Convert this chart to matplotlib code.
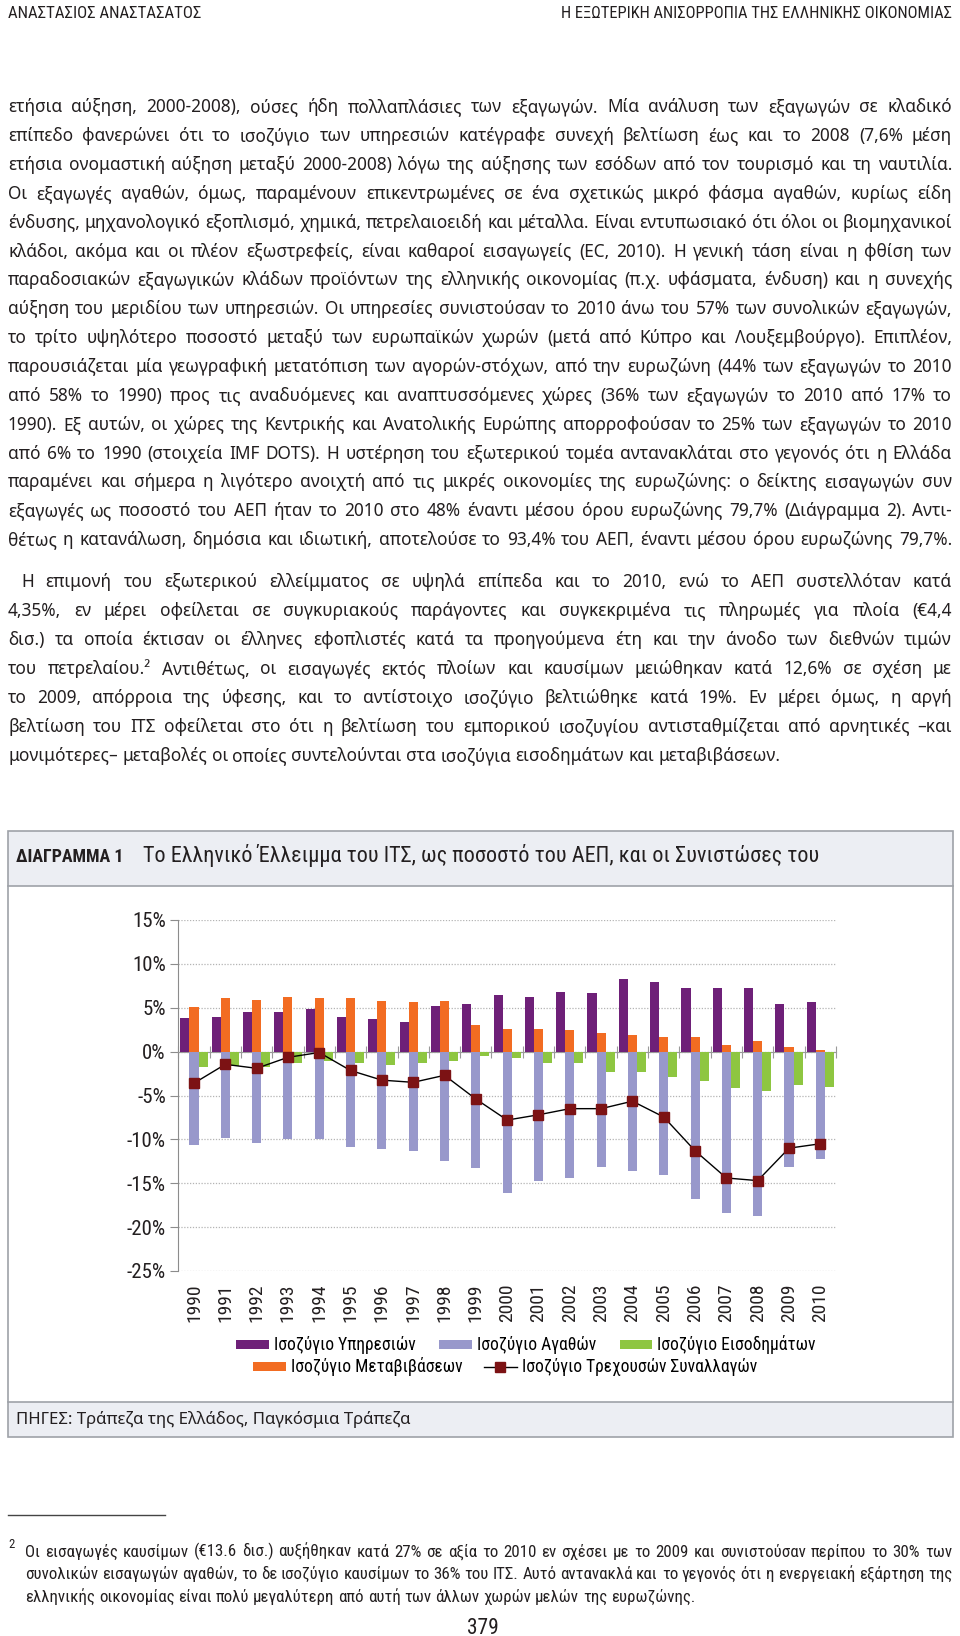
import numpy as np
import matplotlib
matplotlib.use('Agg')
import matplotlib.pyplot as plt
from matplotlib import font_manager as fm
from matplotlib.patches import Rectangle, Patch
from matplotlib.lines import Line2D
from matplotlib.transforms import blended_transform_factory

# ---------------- data ----------------
years = list(range(1990, 2011))
services = [3.8, 3.95, 4.5, 4.5, 4.9, 3.95, 3.7, 3.4, 5.2, 5.45, 6.4,
            6.25, 6.85, 6.7, 8.3, 7.9, 7.3, 7.3, 7.2, 5.45, 5.7]
transfers = [5.05, 6.15, 5.9, 6.25, 6.15, 6.15, 5.75, 5.6, 5.75, 3.0, 2.6,
             2.6, 2.5, 2.15, 1.9, 1.65, 1.65, 0.7, 1.2, 0.55, 0.15]
goods = [-10.6, -9.9, -10.4, -10.0, -10.0, -10.9, -11.05, -11.3, -12.5, -13.3, -16.1,
         -14.7, -14.45, -13.1, -13.65, -14.05, -16.8, -18.4, -18.7, -13.2, -12.25]
income = [-1.8, -1.6, -1.7, -1.33, -1.06, -1.25, -1.5, -1.25, -1.1, -0.55, -0.7,
          -1.35, -1.35, -2.3, -2.3, -2.85, -3.4, -4.1, -4.5, -3.8, -4.0]
current = [-3.6, -1.45, -1.9, -0.65, -0.1, -2.15, -3.25, -3.5, -2.7, -5.4, -7.8,
           -7.2, -6.5, -6.5, -5.65, -7.45, -11.3, -14.4, -14.7, -11.0, -10.5]
yticks = [15, 10, 5, 0, -5, -10, -15, -20, -25]
ytick_labels = ['15%', '10%', '5%', '0%', '-5%', '-10%', '-15%', '-20%', '-25%']
legend_labels = ['Ισοζύγιο Υπηρεσιών', 'Ισοζύγιο Αγαθών', 'Ισοζύγιο Εισοδημάτων',
                 'Ισοζύγιο Μεταβιβάσεων', 'Ισοζύγιο Τρεχουσών Συναλλαγών']

header_left = 'ΑΝΑΣΤΑΣΙΟΣ ΑΝΑΣΤΑΣΑΤΟΣ'
header_right = 'Η ΕΞΩΤΕΡΙΚΗ ΑΝΙΣΟΡΡΟΠΙΑ ΤΗΣ ΕΛΛΗΝΙΚΗΣ ΟΙΚΟΝΟΜΙΑΣ'
chart_label = 'ΔΙΑΓΡΑΜΜΑ 1'
chart_title = 'Το Ελληνικό Έλλειμμα του ΙΤΣ, ως ποσοστό του ΑΕΠ, και οι Συνιστώσες του'
source_text = 'ΠΗΓΕΣ: Τράπεζα της Ελλάδος, Παγκόσμια Τράπεζα'
page_number = '379'

para1 = [
    'ετήσια αύξηση, 2000-2008), ούσες ήδη πολλαπλάσιες των εξαγωγών. Μία ανάλυση των εξαγωγών σε κλαδικό',
    'επίπεδο φανερώνει ότι το ισοζύγιο των υπηρεσιών κατέγραφε συνεχή βελτίωση έως και το 2008 (7,6% μέση',
    'ετήσια ονομαστική αύξηση μεταξύ 2000-2008) λόγω της αύξησης των εσόδων από τον τουρισμό και τη ναυτιλία.',
    'Οι εξαγωγές αγαθών, όμως, παραμένουν επικεντρωμένες σε ένα σχετικώς μικρό φάσμα αγαθών, κυρίως είδη',
    'ένδυσης, μηχανολογικό εξοπλισμό, χημικά, πετρελαιοειδή και μέταλλα. Είναι εντυπωσιακό ότι όλοι οι βιομηχανικοί',
    'κλάδοι, ακόμα και οι πλέον εξωστρεφείς, είναι καθαροί εισαγωγείς (EC, 2010). Η γενική τάση είναι η φθίση των',
    'παραδοσιακών εξαγωγικών κλάδων προϊόντων της ελληνικής οικονομίας (π.χ. υφάσματα, ένδυση) και η συνεχής',
    'αύξηση του μεριδίου των υπηρεσιών. Οι υπηρεσίες συνιστούσαν το 2010 άνω του 57% των συνολικών εξαγωγών,',
    'το τρίτο υψηλότερο ποσοστό μεταξύ των ευρωπαϊκών χωρών (μετά από Κύπρο και Λουξεμβούργο). Επιπλέον,',
    'παρουσιάζεται μία γεωγραφική μετατόπιση των αγορών-στόχων, από την ευρωζώνη (44% των εξαγωγών το 2010',
    'από 58% το 1990) προς τις αναδυόμενες και αναπτυσσόμενες χώρες (36% των εξαγωγών το 2010 από 17% το',
    '1990). Εξ αυτών, οι χώρες της Κεντρικής και Ανατολικής Ευρώπης απορροφούσαν το 25% των εξαγωγών το 2010',
    'από 6% το 1990 (στοιχεία IMF DOTS). Η υστέρηση του εξωτερικού τομέα αντανακλάται στο γεγονός ότι η Ελλάδα',
    'παραμένει και σήμερα η λιγότερο ανοιχτή από τις μικρές οικονομίες της ευρωζώνης: ο δείκτης εισαγωγών συν',
    'εξαγωγές ως ποσοστό του ΑΕΠ ήταν το 2010 στο 48% έναντι μέσου όρου ευρωζώνης 79,7% (Διάγραμμα 2). Αντι-',
    'θέτως η κατανάλωση, δημόσια και ιδιωτική, αποτελούσε το 93,4% του ΑΕΠ, έναντι μέσου όρου ευρωζώνης 79,7%.',
]
para2 = [
    'Η επιμονή του εξωτερικού ελλείμματος σε υψηλά επίπεδα και το 2010, ενώ το ΑΕΠ συστελλόταν κατά',
    '4,35%, εν μέρει οφείλεται σε συγκυριακούς παράγοντες και συγκεκριμένα τις πληρωμές για πλοία (€4,4',
    'δισ.) τα οποία έκτισαν οι έλληνες εφοπλιστές κατά τα προηγούμενα έτη και την άνοδο των διεθνών τιμών',
    'του πετρελαίου.² Αντιθέτως, οι εισαγωγές εκτός πλοίων και καυσίμων μειώθηκαν κατά 12,6% σε σχέση με',
    'το 2009, απόρροια της ύφεσης, και το αντίστοιχο ισοζύγιο βελτιώθηκε κατά 19%. Εν μέρει όμως, η αργή',
    'βελτίωση του ΙΤΣ οφείλεται στο ότι η βελτίωση του εμπορικού ισοζυγίου αντισταθμίζεται από αρνητικές –και',
    'μονιμότερες– μεταβολές οι οποίες συντελούνται στα ισοζύγια εισοδημάτων και μεταβιβάσεων.',
]
footnote = [
    'Οι εισαγωγές καυσίμων (€13.6 δισ.) αυξήθηκαν κατά 27% σε αξία το 2010 εν σχέσει με το 2009 και συνιστούσαν περίπου το 30% των',
    'συνολικών εισαγωγών αγαθών, το δε ισοζύγιο καυσίμων το 36% του ΙΤΣ. Αυτό αντανακλά και το γεγονός ότι η ενεργειακή εξάρτηση της',
    'ελληνικής οικονομίας είναι πολύ μεγαλύτερη από αυτή των άλλων χωρών μελών της ευρωζώνης.',
]

# ---------------- style ----------------
C_SERV = '#6e2078'
C_TRANS = '#f26c22'
C_GOODS = '#9898cb'
C_INC = '#8ec641'
C_CA = '#7c1214'
TXT = '#231f20'
BAND = '#eceef3'
BORDER = '#9ea2a8'

W, H = 960, 1636
fig = plt.figure(figsize=(W / 100, H / 100), dpi=100)
fig.patch.set_facecolor('white')
renderer = fig.canvas.get_renderer()


def has_font(name):
    try:
        fm.findfont(fm.FontProperties(family=name), fallback_to_default=False)
        return True
    except Exception:
        return False


NARROW = next((f for f in ['Liberation Sans Narrow', 'Roboto Condensed', 'Liberation Sans']
               if has_font(f)), 'DejaVu Sans')
BODY = next((f for f in ['Noto Sans', 'Open Sans', 'DejaVu Sans'] if has_font(f)), 'DejaVu Sans')
NARROW_F = [NARROW, 'DejaVu Sans']
BODY_F = [BODY, 'DejaVu Sans']


def fx(x):
    return x / W


def fy(y):
    return 1 - y / H


def measure(s, size, family, weight='normal'):
    t = fig.text(0, 0, s, fontsize=size, family=family, weight=weight)
    w = t.get_window_extent(renderer).width
    t.remove()
    return w


def fit(s, width, family, weight='normal', base=10.0):
    return base * width / measure(s, base, family, weight)


def draw_line(s, x0, x1, yb, size, family, justify=True, color=TXT):
    words = s.split(' ')
    widths = [measure(w, size, family) for w in words]
    if justify and len(words) > 1:
        gap = (x1 - x0 - sum(widths)) / (len(words) - 1)
    else:
        gap = measure('a a', size, family) - measure('aa', size, family)
    x = x0
    for w, ww in zip(words, widths):
        fig.text(fx(x), fy(yb), w, fontsize=size, family=family, color=color,
                 ha='left', va='baseline')
        x += ww + gap


def rect(x0, y0, x1, y1, **kw):
    fig.add_artist(Rectangle((fx(x0), fy(y1)), (x1 - x0) / W, (y1 - y0) / H,
                             transform=fig.transFigure, **kw))


def hline(x0, x1, y, **kw):
    fig.add_artist(Line2D([fx(x0), fx(x1)], [fy(y), fy(y)], transform=fig.transFigure, **kw))


def vline(x, y0, y1, **kw):
    fig.add_artist(Line2D([fx(x), fx(x)], [fy(y0), fy(y1)], transform=fig.transFigure, **kw))


# ---------------- header ----------------
hs = fit(header_left, 193, NARROW_F)
fig.text(fx(8), fy(17.5), header_left, fontsize=hs, family=NARROW_F, color=TXT, va='baseline')
hs2 = fit(header_right, 392, NARROW_F)
fig.text(fx(952), fy(17.5), header_right, fontsize=hs2, family=NARROW_F, color=TXT,
         va='baseline', ha='right')

# ---------------- body text ----------------
LEFT, RIGHT = 8, 952
avail = RIGHT - LEFT
body_size = 10 * min(avail / measure(l, 10, BODY_F) for l in para1) * 0.995
body_size = min(body_size, 10 * min((RIGHT - 21) / measure(para2[0], 10, BODY_F),
                                    *(avail / measure(l, 10, BODY_F) for l in para2[1:6])) * 0.995)
bl_off = 0.27 * body_size * 100 / 72
for i, line in enumerate(para1):
    yc = 107.5 + i * 28.87
    draw_line(line, LEFT, RIGHT, yc + bl_off, body_size, BODY_F, justify=True)
for i, line in enumerate(para2):
    yc = 582 + i * 29.1
    x0 = 21 if i == 0 else LEFT
    draw_line(line, x0, RIGHT, yc + bl_off, body_size, BODY_F, justify=(i < len(para2) - 1))

# ---------------- chart frame ----------------
rect(8, 831, 953, 886, facecolor=BAND, edgecolor=BORDER, lw=1.2)
vline(8, 886, 1402, color=BORDER, lw=1.2)
vline(953, 886, 1402, color=BORDER, lw=1.2)
rect(8, 1402, 953, 1437, facecolor=BAND, edgecolor=BORDER, lw=1.2)

ls = fit(chart_label, 107, NARROW_F, weight='bold')
fig.text(fx(16), fy(862), chart_label, fontsize=ls, family=NARROW_F, weight='bold',
         color=TXT, va='baseline')
ts = fit(chart_title, 673, NARROW_F)
fig.text(fx(143), fy(862), chart_title, fontsize=ts, family=NARROW_F, color=TXT, va='baseline')

ss = fit(source_text, 396, BODY_F)
fig.text(fx(16), fy(1424), source_text, fontsize=ss, family=BODY_F, color=TXT, va='baseline')

# ---------------- chart ----------------
ax_l, ax_r, ax_t, ax_b = 178.3, 836.0, 920.0, 1271.0
ax = fig.add_axes([fx(ax_l), fy(ax_b), (ax_r - ax_l) / W, (ax_b - ax_t) / H])
ax.set_facecolor('none')
x = np.arange(len(years))
bw = 0.29
ax.bar(x - bw, services, bw, color=C_SERV, zorder=3)
ax.bar(x, transfers, bw, color=C_TRANS, zorder=3)
ax.bar(x, goods, bw, color=C_GOODS, zorder=3)
ax.bar(x + bw, income, bw, color=C_INC, zorder=3)
ax.plot(x, current, color='black', lw=1.0, marker='s', ms=6.5, mfc=C_CA, mec=C_CA, zorder=5)

ax.set_xlim(-0.5, len(years) - 0.5)
ax.set_ylim(-25, 15)
for s in ['top', 'right']:
    ax.spines[s].set_visible(False)
ax.spines['left'].set_color('#8c8c8c')
ax.spines['bottom'].set_color('#9a9a9a')
ax.spines['bottom'].set_position(('data', 0))
ax.set_xticks(np.arange(-0.5, len(years), 1.0))
ax.tick_params(axis='x', direction='inout', length=8, color='#9a9a9a', labelbottom=False)

tick_size = fit('-25%', 39, NARROW_F)
ax.set_yticks(yticks)
ax.set_yticklabels(ytick_labels, family=NARROW_F, fontsize=tick_size, color=TXT)
ax.tick_params(axis='y', length=6, color='#8c8c8c', pad=3)
ax.yaxis.grid(True, color='#b4b4b4', linestyle=(0, (1, 1.3)), linewidth=0.9)
ax.set_axisbelow(True)

trans = blended_transform_factory(ax.transData, ax.transAxes)
for i, yr in enumerate(years):
    ax.text(i, -(1283 - ax_b) / (ax_b - ax_t), str(yr), transform=trans, rotation=90,
            ha='center', va='top', fontsize=tick_size * 0.93, family=NARROW_F, color=TXT)

# ---------------- legend ----------------
leg_size = fit(legend_labels[0], 142, NARROW_F)
h_serv = Patch(facecolor=C_SERV)
h_goods = Patch(facecolor=C_GOODS)
h_inc = Patch(facecolor=C_INC)
h_trans = Patch(facecolor=C_TRANS)
h_ca = Line2D([], [], color='black', lw=1.0, marker='s', ms=7, mfc=C_CA, mec=C_CA)
leg_kw = dict(frameon=False, prop={'family': NARROW_F, 'size': leg_size},
              handlelength=1.85, handleheight=0.45, handletextpad=0.28,
              borderpad=0, borderaxespad=0, bbox_transform=fig.transFigure)
fig.legend([h_serv, h_goods, h_inc], legend_labels[:3], loc='center', ncol=3,
           bbox_to_anchor=(fx(526), fy(1345)), columnspacing=1.35, **leg_kw)
fig.legend([h_trans, h_ca], legend_labels[3:], loc='center', ncol=2,
           bbox_to_anchor=(fx(505), fy(1367)), columnspacing=1.25, **leg_kw)

# ---------------- footnote ----------------
hline(8, 165, 1515, color='#444444', lw=1.0)
fn_size = 10 * min((RIGHT - 25) / measure(l, 10, NARROW_F) for l in footnote[:2]) * 0.995
fn_off = 0.27 * fn_size * 100 / 72
fig.text(fx(8), fy(1548), '2', fontsize=fn_size * 0.75, family=NARROW_F, color=TXT, va='baseline')
for i, line in enumerate(footnote):
    yc = 1552 + i * 22.5
    draw_line(line, 25, RIGHT, yc + fn_off, fn_size, NARROW_F, justify=(i < 2))

ps = fit(page_number, 32, NARROW_F)
fig.text(fx(483), fy(1634), page_number, fontsize=ps, family=NARROW_F, color=TXT,
         ha='center', va='baseline')

fig.savefig('out.png', dpi=100, facecolor='white')
